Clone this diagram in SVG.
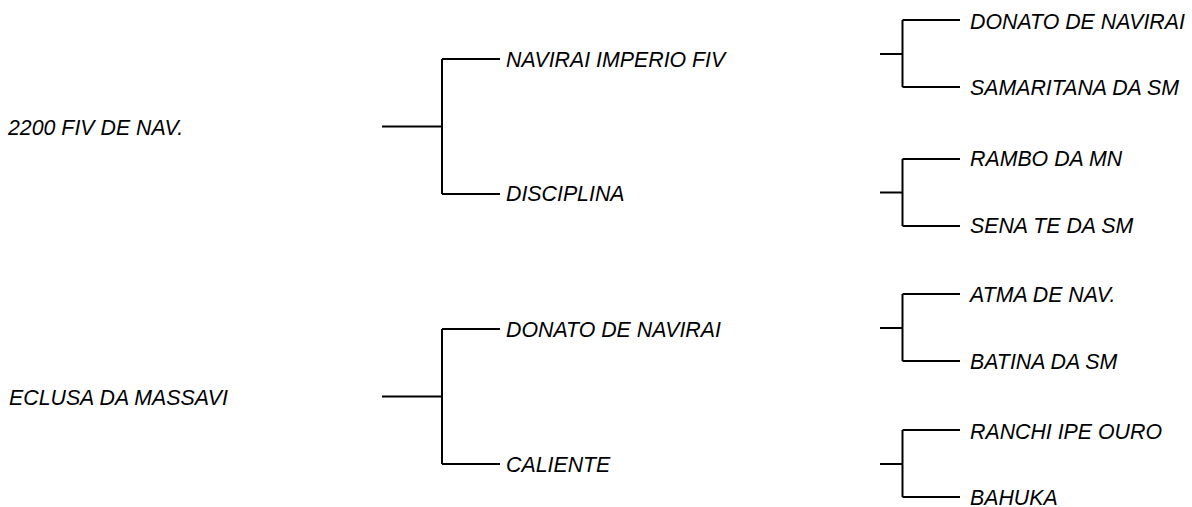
<svg xmlns="http://www.w3.org/2000/svg" width="1192" height="507" viewBox="0 0 1192 507">
<style>
.lbl{font-family:"Liberation Sans",Arial,sans-serif;font-style:italic;font-size:21.33px;fill:#000}
.ln{stroke:#000;stroke-width:2;fill:none}
</style>
<rect width="1192" height="507" fill="#fff"/>
<g id="connectors" class="ln">
<path d="M382,126.5H442M442,59V194M442,59H500M442,194H500"/>
<path d="M382,396.5H442M442,329V464M442,329H500M442,464H500"/>
<path d="M880,54H902.5M902.5,20V87M902.5,20H960M902.5,87H960"/>
<path d="M880,192.5H902.5M902.5,159V226M902.5,159H960M902.5,226H960"/>
<path d="M880,328H902.5M902.5,294V361M902.5,294H960M902.5,361H960"/>
<path d="M880,464H902.5M902.5,430V497M902.5,430H960M902.5,497H960"/>
</g>
<g id="n-root1"><text class="lbl" x="8" y="135">2200 FIV DE NAV.</text></g>
<g id="n-navirai-imperio"><text class="lbl" x="506" y="67">NAVIRAI IMPERIO FIV</text></g>
<g id="n-disciplina"><text class="lbl" x="506" y="201">DISCIPLINA</text></g>
<g id="n-donato1"><text class="lbl" x="970" y="29">DONATO DE NAVIRAI</text></g>
<g id="n-samaritana"><text class="lbl" x="970" y="95">SAMARITANA DA SM</text></g>
<g id="n-rambo"><text class="lbl" x="970" y="166">RAMBO DA MN</text></g>
<g id="n-sena"><text class="lbl" x="970" y="232.5">SENA TE DA SM</text></g>
<g id="n-root2"><text class="lbl" x="9" y="405">ECLUSA DA MASSAVI</text></g>
<g id="n-donato2"><text class="lbl" x="506" y="337">DONATO DE NAVIRAI</text></g>
<g id="n-caliente"><text class="lbl" x="506" y="471.5">CALIENTE</text></g>
<g id="n-atma"><text class="lbl" x="970" y="302">ATMA DE NAV.</text></g>
<g id="n-batina"><text class="lbl" x="970" y="368.5">BATINA DA SM</text></g>
<g id="n-ranchi"><text class="lbl" x="970" y="438.5">RANCHI IPE OURO</text></g>
<g id="n-bahuka"><text class="lbl" x="970" y="505">BAHUKA</text></g>
</svg>
